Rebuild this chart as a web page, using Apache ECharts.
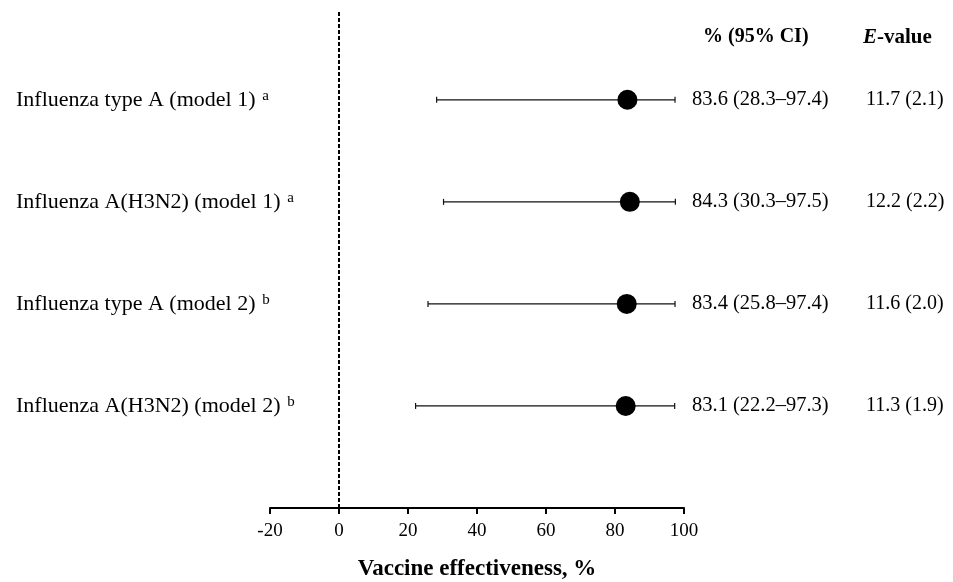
<!DOCTYPE html>
<html><head><meta charset="utf-8">
<script src="https://cdn.jsdelivr.net/npm/echarts@6/dist/echarts.min.js"></script>
<style>html,body{margin:0;padding:0;background:#fff}#c{width:953px;height:582px}</style>
</head><body><div id="c"></div>
<script>
const outcomes = ['Influenza type A (model 1)', 'Influenza A(H3N2) (model 1)', 'Influenza type A (model 2)', 'Influenza A(H3N2) (model 2)'];
const footnotes = ['a', 'a', 'b', 'b'];
const ve = [83.6, 84.3, 83.4, 83.1];
const ciLow = [28.3, 30.3, 25.8, 22.2];
const ciHigh = [97.4, 97.5, 97.4, 97.3];
const eValue = [11.7, 12.2, 11.6, 11.3];
const eValueCI = [2.1, 2.2, 2.0, 1.9];
const xMin = -20, xMax = 100, xStep = 20;

const FONT = 'Liberation Serif';
const n = outcomes.length;
const rowPos = outcomes.map((_, i) => n - i);
const fmt = v => v.toFixed(1);

const chart = echarts.init(document.getElementById('c'), null, {renderer: 'canvas'});
chart.setOption({
  animation: false,
  backgroundColor: '#fff',
  grid: {left: 270, right: 269, top: 10, bottom: 74, containLabel: false, outerBoundsMode: 'none'},
  xAxis: {
    type: 'value', min: xMin, max: xMax, interval: xStep,
    axisLine: {show: true, lineStyle: {color: '#000', width: 2}},
    axisTick: {show: true, inside: false, length: 6, lineStyle: {color: '#000', width: 2}},
    axisLabel: {color: '#000', fontFamily: FONT, fontSize: 19, margin: 14},
    splitLine: {show: false},
    name: 'Vaccine effectiveness, %', nameLocation: 'middle', nameGap: 50,
    nameTextStyle: {color: '#000', fontFamily: FONT, fontSize: 23, fontWeight: 'bold'}
  },
  yAxis: {
    type: 'value', min: 0, max: 4.88, interval: 1,
    axisLine: {show: false}, axisTick: {show: false}, splitLine: {show: false},
    axisLabel: {
      align: 'left', margin: 254, color: '#000',
      formatter: v => {
        const i = n - Math.round(v);
        if (Math.abs(v - Math.round(v)) > 1e-6 || i < 0 || i >= n) return '';
        return '{t|' + outcomes[i] + '}  {s|' + footnotes[i] + '}';
      },
      rich: {
        t: {fontFamily: FONT, fontSize: 22, color: '#000'},
        s: {fontFamily: FONT, fontSize: 15, color: '#000', padding: [0, 0, 8, 0]}
      }
    }
  },
  graphic: [
    {type: 'text', left: 703, top: 27, style: {text: '% (95% CI)', font: 'bold 20px "Liberation Serif"', fill: '#000'}},
    {type: 'text', left: 863, top: 27, style: {
      text: '{i|E}{b|-value}', fill: '#000',
      rich: {i: {fontFamily: FONT, fontSize: 21, fontStyle: 'italic', fontWeight: 'bold', fill: '#000'},
             b: {fontFamily: FONT, fontSize: 21, fontWeight: 'bold', fill: '#000'}}
    }}
  ],
  series: [
    {
      type: 'custom',
      data: ve.map((v, i) => [ciLow[i], ciHigh[i], rowPos[i], i]),
      renderItem: (params, api) => {
        const y = api.value(2);
        const i = api.value(3);
        const p0 = api.coord([api.value(0), y]);
        const p1 = api.coord([api.value(1), y]);
        const edge = api.coord([xMax, y])[0];
        const ls = {stroke: '#111', lineWidth: 1.2};
        return {type: 'group', children: [
          {type: 'line', shape: {x1: p0[0], y1: p0[1], x2: p1[0], y2: p1[1]}, style: ls},
          {type: 'line', shape: {x1: p0[0], y1: p0[1] - 3, x2: p0[0], y2: p0[1] + 3}, style: ls},
          {type: 'line', shape: {x1: p1[0], y1: p1[1] - 3, x2: p1[0], y2: p1[1] + 3}, style: ls},
          {type: 'text', x: edge + 8, y: p0[1], style: {
            text: fmt(ve[i]) + ' (' + fmt(ciLow[i]) + '–' + fmt(ciHigh[i]) + ')',
            font: '20.5px "Liberation Serif"', fill: '#000', verticalAlign: 'middle', align: 'left'}},
          {type: 'text', x: edge + 182, y: p0[1], style: {
            text: fmt(eValue[i]) + ' (' + fmt(eValueCI[i]) + ')',
            font: '20px "Liberation Serif"', fill: '#000', verticalAlign: 'middle', align: 'left'}}
        ]};
      },
      z: 2
    },
    {
      type: 'scatter',
      data: ve.map((v, i) => [v, rowPos[i]]),
      symbol: 'circle', symbolSize: 20,
      itemStyle: {color: '#000', opacity: 1},
      z: 3,
      markLine: {
        silent: true, symbol: 'none', label: {show: false},
        lineStyle: {color: '#000', width: 2, type: [4, 2], opacity: 1},
        data: [{xAxis: 0}]
      }
    }
  ]
});
</script>
</body></html>
